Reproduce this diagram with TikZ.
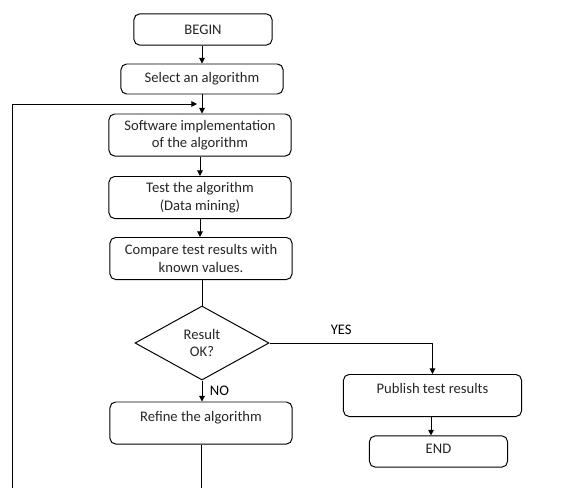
\documentclass[tikz,border=0pt]{standalone}
\usepackage{fontspec}
\setmainfont{Carlito}
\usetikzlibrary{arrows.meta,positioning,shapes.geometric}

\begin{document}
\begin{tikzpicture}[
    x=0.025cm, y=-0.025cm,
    font=\fontsize{10.4}{12.5}\selectfont,
    box/.style={draw, line width=0.7pt, rounded corners=4pt, align=center, text=black!85},
    stepbox/.style={box, minimum width=4.55cm, minimum height=1.05cm},
    endbox/.style={box, minimum width=3.45cm, minimum height=0.78cm},
    highbox/.style={stepbox, text depth=0.35cm},
    decision/.style={diamond, draw, line width=0.7pt, aspect=1.8, minimum width=3.35cm, minimum height=1.85cm, inner sep=0pt, align=center, text=black!85},
    arrow/.style={-{Triangle[width=4pt,length=4pt]}, line width=0.7pt},
    line/.style={line width=0.7pt}
  ]
  \clip (0,0) rectangle (582,487);

  % Main column
  \node[endbox] (begin) at (203,29.5) {BEGIN};
  \node[stepbox, minimum width=4.05cm, minimum height=0.75cm] (select) at (202,79) {Select an algorithm};
  \node[stepbox] (software) at (200,135) {Software implementation\\of the algorithm};
  \node[stepbox] (test) at (200,197.5) {Test the algorithm\\(Data mining)};
  \node[stepbox] (compare) at (201,258.5) {Compare test results with\\known values.};
  \node[decision] (check) at (202,343) {Result\\OK?};
  \node[highbox] (refine) at (201,423) {Refine the algorithm};

  % Right branch
  \node[highbox, minimum width=4.45cm] (publish) at (432.5,395.5) {Publish test results};
  \node[endbox, text depth=0.12cm] (end) at (438.5,451.5) {END};

  % Loop back
  \coordinate (loopbot) at (12,530);
  \coordinate (loopjoin) at (197,104);

  % Connections
  \draw[arrow] (begin.south -| select.north) -- (select);
  \draw[arrow] (select.south) -- (select.south |- software.north);
  \draw[arrow] (software) -- (software.south |- test.north);
  \draw[arrow] (test) -- (test.south |- compare.north);
  \draw[line] (compare.south -| check.north) -- (check);
  \draw[arrow] (check) -- node[right, xshift=2pt] {NO} (check.south |- refine.north);
  \draw[arrow] (check) -| node[pos=0.22, above, yshift=2pt] {YES} (publish);
  \draw[arrow] (publish.south -| 431,0) -- (end.north -| 431,0);
  \draw[arrow] (refine) |- (loopbot) |- (loopjoin);

\end{tikzpicture}
\end{document}
